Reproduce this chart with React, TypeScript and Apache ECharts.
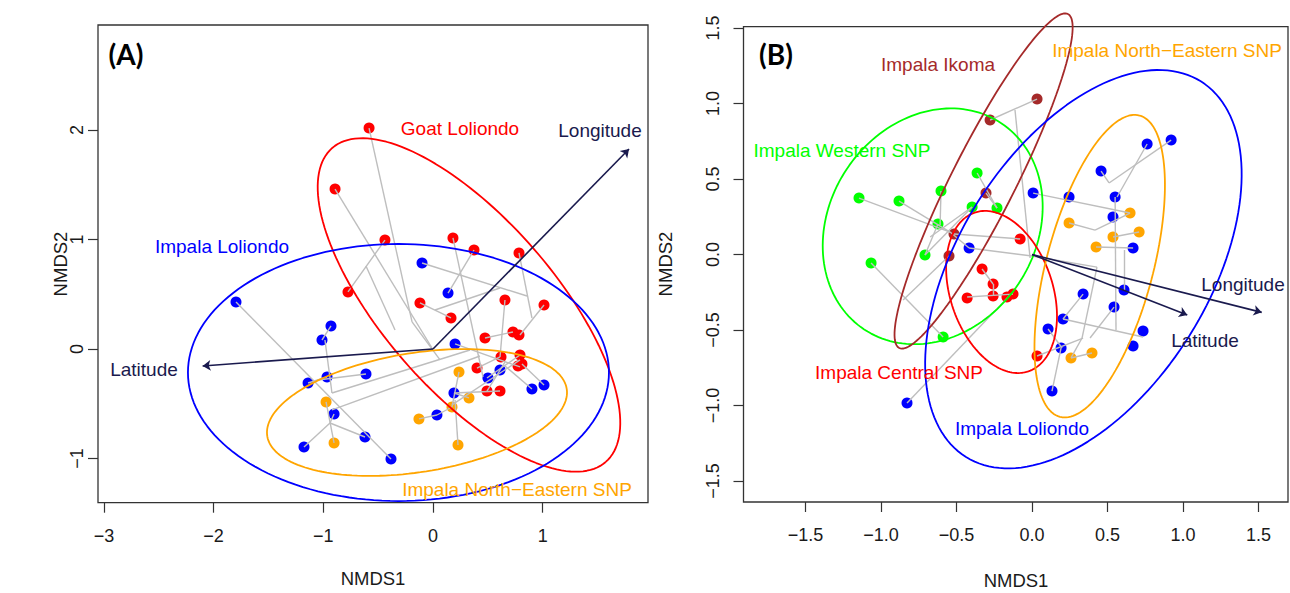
import React, { useEffect, useRef } from 'react';
import * as echarts from 'echarts';

// ---------- tick values ----------
const xTicksA = [-3, -2, -1, 0, 1];
const yTicksA = [-1, 0, 1, 2];
const xTicksB = [-1.5, -1, -0.5, 0, 0.5, 1, 1.5];
const yTicksB = [-1.5, -1, -0.5, 0, 0.5, 1, 1.5];

// ---------- panel A site scores (NMDS1, NMDS2) ----------
const goatLoliondoA = [[-0.583, 2.018], [-0.893, 1.461], [-0.438, 0.995], [-0.775, 0.521], [0.182, 1.014], [0.374, 0.904], [0.784, 0.877], [-0.119, 0.42], [0.164, 0.283], [0.656, 0.447], [1.012, 0.402], [0.474, 0.1], [0.729, 0.155], [0.784, 0.128], [0.62, -0.073], [0.793, -0.055], [0.401, -0.174], [0.775, -0.155], [0.811, -0.137], [0.492, -0.384], [0.611, -0.384]];
const impalaLoliondoA = [[-1.796, 0.429], [-0.93, 0.21], [-1.012, 0.082], [-1.139, -0.311], [-0.966, -0.256], [-0.611, -0.228], [-0.902, -0.594], [-0.62, -0.804], [-1.176, -0.895], [-0.383, -1.005], [-0.1, 0.785], [0.137, 0.511], [0.201, 0.046], [0.501, -0.265], [0.611, -0.192], [0.902, -0.365], [1.012, -0.329], [0.191, -0.402], [0.036, -0.603]];
const impalaNorthEastA = [[-0.975, -0.484], [-0.902, -0.858], [0.237, -0.21], [0.328, -0.447], [0.173, -0.53], [-0.128, -0.639], [0.228, -0.877]];

// ---------- panel B site scores ----------
const impalaWesternB = [[-1.146, 0.374], [-0.881, 0.354], [-0.603, 0.421], [-0.364, 0.54], [-0.397, 0.315], [-0.232, 0.308], [-0.623, 0.202], [-0.709, -0.003], [-1.066, -0.056], [-0.589, -0.546]];
const impalaIkomaB = [[0.033, 1.03], [-0.278, 0.891], [-0.305, 0.407], [-0.517, 0.136], [-0.55, -0.01]];
const impalaCentralB = [[-0.079, 0.103], [-0.331, -0.096], [-0.258, -0.195], [-0.43, -0.288], [-0.258, -0.275], [-0.166, -0.281], [-0.126, -0.262], [0.033, -0.672]];
const impalaLoliondoB = [[0.007, 0.407], [0.245, 0.381], [0.457, 0.553], [0.762, 0.732], [0.921, 0.758], [0.55, 0.381], [0.536, 0.248], [0.669, 0.043], [0.609, -0.235], [0.338, -0.262], [0.543, -0.348], [0.205, -0.427], [0.106, -0.493], [0.735, -0.507], [0.669, -0.606], [0.192, -0.619], [0.132, -0.904], [-0.417, 0.043], [-0.828, -0.983]];
const impalaNorthEastB = [[0.245, 0.209], [0.424, 0.05], [0.536, 0.116], [0.649, 0.275], [0.709, 0.149], [0.258, -0.685], [0.397, -0.652]];

// ---------- cluster tree segments [x1, y1, x2, y2] ----------
const clusterSegA = [
  [-0.583, 2.018, -0.191, 0.247], [-0.893, 1.461, -0.009, 0.009], [-0.438, 0.995, -0.775, 0.521],
  [0.182, 1.014, 0.456, -0.256], [0.374, 0.904, 0.137, 0.511], [-0.1, 0.785, 0.857, 0.484],
  [0.784, 0.877, 0.902, 0.283], [1.012, 0.402, 0.793, 0.128], [-0.119, 0.42, 0.164, 0.283],
  [0.018, 0.356, 0.611, 0.557], [0.474, 0.1, 0.729, 0.155], [0.656, 0.447, 0.611, -0.073],
  [0.201, 0.046, 0.793, -0.164], [0.793, -0.055, 0.492, -0.265], [0.401, -0.174, 0.611, -0.073],
  [0.191, -0.402, 0.611, -0.384], [0.492, -0.384, 0.656, -0.119], [0.902, -0.365, 0.656, -0.155],
  [1.012, -0.329, 0.811, -0.137], [-0.611, 0.758, -0.346, 0.174], [-0.191, 0.247, 0.064, -0.1],
  [-1.796, 0.429, -0.383, -1.005], [-0.93, 0.21, -1.012, 0.082], [-0.985, 0.082, -0.921, -0.402],
  [-1.139, -0.311, -0.966, -0.256], [-1.048, -0.283, -0.611, -0.228], [-0.921, -0.402, 0.337, -0.009],
  [-0.921, -0.557, 0.428, -0.064], [-0.975, -0.484, -0.902, -0.858], [-0.902, -0.594, -0.939, -0.676],
  [-1.176, -0.895, -0.939, -0.676], [-0.939, -0.676, -0.62, -0.804], [0.237, -0.21, 0.173, -0.53],
  [0.191, -0.402, 0.328, -0.447], [-0.128, -0.639, 0.036, -0.603], [0.036, -0.603, 0.173, -0.53],
  [0.228, -0.877, 0.201, -0.466], [0.173, -0.511, 0.793, -0.1]
];
const clusterSegB = [
  [-1.146, 0.374, -0.543, 0.149], [-0.881, 0.354, -0.543, 0.149], [-0.603, 0.421, -0.609, 0.195],
  [-0.364, 0.54, -0.232, 0.308], [-0.305, 0.407, -0.232, 0.308], [-0.397, 0.315, -0.675, 0.116],
  [-0.623, 0.202, -0.709, -0.003], [-0.709, -0.003, -0.397, 0.315], [-1.066, -0.056, -0.589, -0.546],
  [-0.854, -0.301, -0.55, -0.01], [-0.517, 0.136, -0.079, 0.103], [-0.417, 0.043, 0, -0.01],
  [-0.543, 0.149, -0.417, 0.043], [-0.278, 0.891, 0.033, 1.03], [-0.113, 0.957, -0.013, -0.023],
  [-0.331, -0.096, -0.258, -0.195], [-0.258, -0.195, -0.258, -0.275], [-0.43, -0.281, -0.126, -0.262],
  [-0.828, -0.983, -0.126, -0.248], [0.033, -0.672, 0.338, -0.553], [0.007, 0.407, 0.649, 0.275],
  [0.457, 0.553, 0.51, 0.474], [0.51, 0.474, 0.921, 0.758], [0.762, 0.732, 0.563, 0.381],
  [0.55, 0.381, 0.556, -0.5], [0.245, 0.209, 0.417, 0.162], [0.417, 0.162, 0.649, 0.275],
  [0.536, 0.116, 0.709, 0.149], [0.424, 0.05, 0.669, 0.043], [0, -0.01, 0.43, -0.083],
  [0.43, -0.083, 0.331, -0.553], [0.609, 0.03, 0.609, -0.235], [0.338, -0.262, 0.205, -0.427],
  [0.543, -0.348, 0.384, -0.553], [0.205, -0.427, 0.735, -0.546], [0.106, -0.493, 0.199, -0.619],
  [0.192, -0.619, 0.132, -0.904], [0.258, -0.685, 0.397, -0.652], [0.331, -0.553, 0.258, -0.685]
];

// ---------- dispersion ellipses [cx, cy, semiMajor, semiMinor, angleDeg] ----------
const ellGoatA = [0.328, 0.402, 1.9, 0.782, -49];
const ellLoliondoA = [-0.315, -0.215, 1.919, 1.174, 0];
const ellNorthEastA = [-0.146, -0.58, 1.382, 0.544, 9];
const ellWesternB = [-0.658, 0.187, 0.82, 0.684, 56.4];
const ellIkomaB = [-0.321, 0.487, 1.239, 0.212, 63.2];
const ellCentralB = [-0.202, -0.248, 0.555, 0.339, -71.3];
const ellLoliondoB = [0.34, -0.097, 1.467, 0.829, 58];
const ellNorthEastB = [0.448, -0.077, 1.032, 0.354, 75.2];

// ---------- environmental fit arrows [x, y] ----------
const longitudeA = [1.787, 1.826];
const latitudeA = [-2.1, -0.155];
const longitudeB = [1.521, -0.383];
const latitudeB = [1.028, -0.4];

const RED = '#ff0000';
const BLUE = '#0000ff';
const ORANGE = '#ffa500';
const GREEN = '#00ff00';
const BROWN = '#a52a2a';
const NAVY = '#1a1a4e';
const GREY = '#bebebe';
const FONT = '"Liberation Sans", Arial, sans-serif';

function ellipsePoints(e: number[]) {
  const [cx, cy, a, b, deg] = e;
  const r = (deg * Math.PI) / 180;
  const pts: number[][] = [];
  for (let i = 0; i <= 160; i++) {
    const t = (i / 160) * 2 * Math.PI;
    pts.push([
      cx + a * Math.cos(t) * Math.cos(r) - b * Math.sin(t) * Math.sin(r),
      cy + a * Math.cos(t) * Math.sin(r) + b * Math.sin(t) * Math.cos(r),
    ]);
  }
  return pts;
}

const minus = (s: string) => s.replace('-', '\u2212');

function axisX(grid: number, min: number, max: number, ticks: number[], dec: number) {
  return {
    type: 'value', gridIndex: grid, min, max,
    axisLine: { show: false, onZero: false },
    splitLine: { show: false },
    axisTick: { show: true, inside: false, length: 10, customValues: ticks, lineStyle: { color: '#333', width: 1.2 } },
    axisLabel: {
      customValues: ticks, margin: 24, fontSize: 18, color: '#1a1a1a', fontFamily: FONT,
      formatter: (v: number) => minus(v.toFixed(dec)),
    },
  };
}
function axisY(grid: number, min: number, max: number, ticks: number[], dec: number, margin: number) {
  return {
    type: 'value', gridIndex: grid, min, max,
    axisLine: { show: false, onZero: false },
    splitLine: { show: false },
    axisTick: { show: true, inside: false, length: 10, customValues: ticks, lineStyle: { color: '#333', width: 1.2 } },
    axisLabel: {
      customValues: ticks, margin, fontSize: 18, color: '#1a1a1a', fontFamily: FONT, rotate: 90,
      formatter: (v: number) => minus(v.toFixed(dec)),
    },
  };
}

function scatter(grid: number, data: number[][], color: string) {
  return {
    type: 'scatter', xAxisIndex: grid, yAxisIndex: grid, data, symbolSize: 11,
    itemStyle: { color, opacity: 1 }, z: 2, silent: true,
  };
}
function segs(grid: number, list: number[][]) {
  return {
    type: 'lines', coordinateSystem: 'cartesian2d', xAxisIndex: grid, yAxisIndex: grid,
    data: list.map((s) => ({ coords: [[s[0], s[1]], [s[2], s[3]]] })),
    lineStyle: { color: GREY, width: 1.4, opacity: 1 }, z: 3, silent: true,
  };
}
function ell(grid: number, e: number[], color: string) {
  return {
    type: 'line', xAxisIndex: grid, yAxisIndex: grid, data: ellipsePoints(e),
    showSymbol: false, symbol: 'none', clip: false,
    lineStyle: { color, width: 1.8 }, z: 4, silent: true,
  };
}
function arrows(grid: number, ends: number[][]) {
  return {
    type: 'lines', coordinateSystem: 'cartesian2d', xAxisIndex: grid, yAxisIndex: grid,
    data: ends.map((e) => ({ coords: [[0, 0], e] })),
    symbol: ['none', 'arrow'], symbolSize: 8,
    lineStyle: { color: NAVY, width: 1.6, opacity: 1 }, z: 5, silent: true,
  };
}

function label(text: string, x: number, y: number, color: string, size = 19, extra: any = {}) {
  return {
    type: 'text', x, y, z: 10, ...extra,
    style: { text, fill: color, font: `${size}px ${FONT}`, align: 'center', verticalAlign: 'middle' },
  };
}

export default function App() {
  const ref = useRef<HTMLDivElement>(null);
  useEffect(() => {
    if (!ref.current) return;
    const chart = echarts.init(ref.current, null, { renderer: 'svg' });
    const option: any = {
      animation: false,
      backgroundColor: '#ffffff',
      grid: [
        { left: 98, top: 25, width: 550, height: 477.7, show: true, borderColor: '#333', borderWidth: 1.3, backgroundColor: 'transparent' },
        { left: 743.5, top: 26.7, width: 544.5, height: 475.3, show: true, borderColor: '#333', borderWidth: 1.3, backgroundColor: 'transparent' },
      ],
      xAxis: [axisX(0, -3.054, 1.96, xTicksA, 0), axisX(1, -1.911, 1.695, xTicksB, 1)],
      yAxis: [axisY(0, -1.404, 2.959, yTicksA, 0, 12), axisY(1, -1.639, 1.509, yTicksB, 1, 22)],
      series: [
        scatter(0, goatLoliondoA, RED),
        scatter(0, impalaLoliondoA, BLUE),
        scatter(0, impalaNorthEastA, ORANGE),
        segs(0, clusterSegA),
        ell(0, ellGoatA, RED),
        ell(0, ellLoliondoA, BLUE),
        ell(0, ellNorthEastA, ORANGE),
        arrows(0, [longitudeA, latitudeA]),
        scatter(1, impalaWesternB, GREEN),
        scatter(1, impalaIkomaB, BROWN),
        scatter(1, impalaCentralB, RED),
        scatter(1, impalaLoliondoB, BLUE),
        scatter(1, impalaNorthEastB, ORANGE),
        segs(1, clusterSegB),
        ell(1, ellWesternB, GREEN),
        ell(1, ellIkomaB, BROWN),
        ell(1, ellCentralB, RED),
        ell(1, ellLoliondoB, BLUE),
        ell(1, ellNorthEastB, ORANGE),
        arrows(1, [longitudeB, latitudeB]),
      ],
      graphic: [
        { type: 'text', x: 126, y: 54, z: 10, style: { text: '(A)', fill: '#000', font: 'bold 28px Lato, sans-serif', align: 'center', verticalAlign: 'middle' } },
        { type: 'text', x: 776, y: 54, z: 10, style: { text: '(B)', fill: '#000', font: 'bold 28px Lato, sans-serif', align: 'center', verticalAlign: 'middle' } },
        label('Goat Loliondo', 460, 128, RED),
        label('Impala Loliondo', 222, 246, BLUE),
        label('Impala North\u2212Eastern SNP', 517, 489, ORANGE),
        label('Longitude', 600, 130, NAVY),
        label('Latitude', 144, 369, NAVY),
        label('Impala Ikoma', 938, 64, BROWN),
        label('Impala North\u2212Eastern SNP', 1167, 50, ORANGE),
        label('Impala Western SNP', 842, 150, GREEN),
        label('Impala Central SNP', 899, 372, RED),
        label('Impala Loliondo', 1022, 428, BLUE),
        label('Longitude', 1243, 284, NAVY),
        label('Latitude', 1205, 340, NAVY),
        label('NMDS1', 373, 578, '#1a1a1a', 18.5),
        label('NMDS1', 1016, 580, '#1a1a1a', 18.5),
        label('NMDS2', 60, 264, '#1a1a1a', 18.5, { rotation: Math.PI / 2 }),
        label('NMDS2', 665, 264, '#1a1a1a', 18.5, { rotation: Math.PI / 2 }),
      ],
    };
    chart.setOption(option);
    return () => chart.dispose();
  }, []);
  return <div ref={ref} style={{ position: 'fixed', left: 0, top: 0, width: 1290, height: 593 }} />;
}
